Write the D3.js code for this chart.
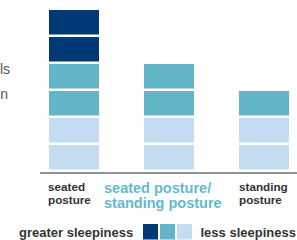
<!DOCTYPE html>
<html>
<head>
<meta charset="utf-8">
<script src="https://cdn.jsdelivr.net/npm/d3@7"></script>
<style>
  body { margin: 0; background: #fff; }
  svg { display: block; font-family: "Liberation Sans", Arial, sans-serif; }
</style>
</head>
<body>
<svg id="canvas"></svg>
<script>
// categories and number of blocks per sleepiness level
let categories = ["seated posture", "seated posture/standing posture", "standing posture"]
let labelLines = [["seated", "posture"], ["seated posture/", "standing posture"], ["standing", "posture"]]
let levels = ["less", "medium", "greater"]
let lessBlocks = [2, 2, 2]
let mediumBlocks = [2, 2, 1]
let greaterBlocks = [2, 0, 0]
let legendLabels = ["greater sleepiness", "less sleepiness"]
let sideText = ["levels", "in"]

let colors = {less: "#c3dcf1", medium: "#62b5c6", greater: "#003a76"}

let width = 297
let height = 240

let svg = d3.select('#canvas').attr('width', width).attr('height', height)

let xScale = d3.scaleBand()
    .domain(categories)
    .range([49, 289])
    .paddingInner(0.4737)
    .paddingOuter(0)

let yScale = d3.scaleLinear()
    .domain([0, 6])
    .range([172, 10])

// build one block per unit, stacked from the bottom
let blocks = []
categories.forEach((c, i) => {
    let counts = {less: lessBlocks[i], medium: mediumBlocks[i], greater: greaterBlocks[i]}
    let base = 0
    levels.forEach(l => {
        for (let k = 0; k < counts[l]; k++) {
            blocks.push({cat: c, level: l, y0: base, y1: base + 1})
            base++
        }
    })
})

svg.append('g').selectAll('rect')
    .data(blocks)
    .enter().append('rect')
    .attr('x', d => xScale(d.cat))
    .attr('width', xScale.bandwidth())
    .attr('y', d => yScale(d.y1))
    .attr('height', d => yScale(d.y0) - yScale(d.y1) - 2.5)
    .attr('fill', d => colors[d.level])

// baseline
svg.append('line')
    .attr('x1', 40).attr('x2', width)
    .attr('y1', 173).attr('y2', 173)
    .attr('stroke', '#6f6f6f')
    .attr('stroke-width', 1.5)

// category labels
let labelX = [xScale(categories[0]) - 1, 104, xScale(categories[2])]
let labelStyle = [
    {size: 11.7, color: '#333', y: [191, 203.5]},
    {size: 14.5, color: '#5fbccd', y: [193, 207.5]},
    {size: 11.7, color: '#333', y: [191, 203.5]}
]
labelLines.forEach((lines, i) => {
    let t = svg.append('text')
        .attr('font-weight', 'bold')
        .attr('font-size', labelStyle[i].size)
        .attr('fill', labelStyle[i].color)
    lines.forEach((ln, j) => {
        t.append('tspan').attr('x', labelX[i]).attr('y', labelStyle[i].y[j]).text(ln)
    })
})

// side text, cut off by the left edge as in the original
let sideX = [10, 8]
sideText.forEach((s, i) => {
    svg.append('text')
        .attr('x', sideX[i]).attr('y', 74 + i * 24.5)
        .attr('text-anchor', 'end')
        .attr('font-size', 14)
        .attr('fill', '#555')
        .text(s)
})

// legend
svg.append('text')
    .attr('x', 19).attr('y', 237)
    .attr('font-weight', 'bold').attr('font-size', 13).attr('fill', '#333')
    .text(legendLabels[0])

let legendLevels = ["greater", "medium", "less"]
svg.append('g').selectAll('rect')
    .data(legendLevels)
    .enter().append('rect')
    .attr('x', (d, i) => 143 + i * 17)
    .attr('y', 224)
    .attr('width', 15)
    .attr('height', 15.5)
    .attr('fill', d => colors[d])

svg.append('text')
    .attr('x', 200.5).attr('y', 237)
    .attr('font-weight', 'bold').attr('font-size', 13).attr('fill', '#333')
    .text(legendLabels[1])
</script>
</body>
</html>
